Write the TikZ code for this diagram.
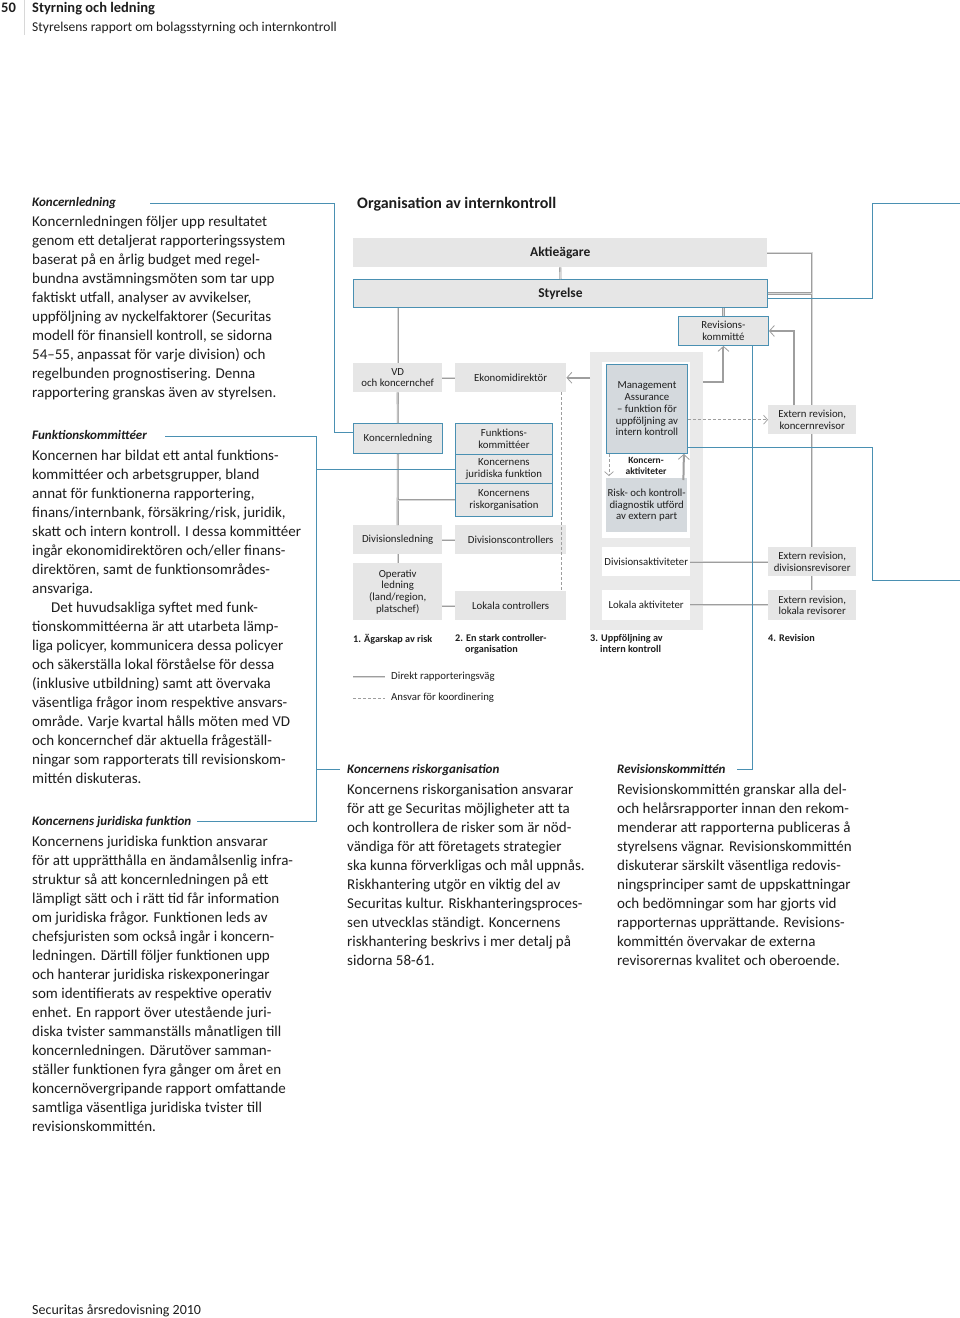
\documentclass[tikz,border=0pt]{standalone}
\usepackage{fontspec}
\setmainfont{Carlito}
\usetikzlibrary{arrows.meta, positioning, calc}

\definecolor{sblue}{RGB}{74,144,178}
\definecolor{boxgray}{RGB}{230,230,230}
\definecolor{panelgray}{RGB}{234,234,234}
\definecolor{magray}{RGB}{212,217,221}
\definecolor{linegray}{RGB}{158,158,158}
\definecolor{linefill}{RGB}{215,215,215}
\definecolor{ink}{RGB}{30,30,30}

\newcommand\bodyfont{\fontsize{15}{19}\selectfont}
\newcommand\headfont{\fontsize{13}{15}\selectfont\bfseries\itshape}
\newcommand\diagfont{\fontsize{10.8}{11.7}\selectfont}
\newcommand\stepfont{\fontsize{10.2}{11}\selectfont\bfseries}

\tikzset{
  graybox/.style={fill=boxgray, inner sep=1pt, align=center, font=\diagfont, text=ink, anchor=north west},
  bluebox/.style={graybox, draw=sblue, line width=0.9pt},
  whitebox/.style={graybox, fill=white},
  mabox/.style={graybox, fill=magray},
  bodytext/.style={anchor=north west, inner sep=0pt, align=left, font=\bodyfont, text=ink},
  headtext/.style={anchor=base west, inner sep=0pt, font=\headfont, text=ink},
  steplabel/.style={anchor=north west, inner sep=0pt, align=left, font=\stepfont, text=ink},
  rep/.style={draw=linegray, double=linefill, double distance=0.9pt, line width=0.6pt},
  reparrow/.style={draw=linegray, line width=2pt, -{Straight Barb[length=5pt, width=11pt, line width=0.8pt]}},
  coordline/.style={draw=linegray, line width=0.7pt, dash pattern=on 3pt off 2pt},
  coordarrow/.style={coordline, -{Straight Barb[length=4pt, width=9pt]}},
  infoline/.style={draw=sblue, line width=0.9pt},
}

\begin{document}
\begin{tikzpicture}[x=1pt, y=-1pt]
\useasboundingbox[fill=white] (0,0) rectangle (960,1318);

% page head
\draw[linegray!40, line width=0.6pt] (24,0) -- (24,35);
\node[anchor=base west, inner sep=0pt, font=\fontsize{14.5}{16}\selectfont\bfseries, text=ink] (pnum) at (1,12) {50};
\node[anchor=base west, inner sep=0pt, font=\fontsize{14.5}{16}\selectfont\bfseries, text=ink] (ptitle) at (32,12) {Styrning och ledning};
\node[anchor=base west, inner sep=0pt, font=\fontsize{13.5}{15}\selectfont, text=ink] (psub) at (32,31) {Styrelsens rapport om bolagsstyrning och internkontroll};

% left column
\node[headtext] (hKonc) at (32,206) {Koncernledning};
\node[bodytext] (tKonc) at (32,215.5) {Koncernledningen följer upp resultatet\\
genom ett detaljerat rapporteringssystem\\
baserat på en årlig budget med regel-\\
bundna avstämningsmöten som tar upp\\
faktiskt utfall, analyser av avvikelser,\\
uppföljning av nyckelfaktorer (Securitas\\
modell för finansiell kontroll, se sidorna\\
54–55, anpassat för varje division) och\\
regelbunden prognostisering. Denna\\
rapportering granskas även av styrelsen.};

\node[headtext] (hFunk) at (32,439) {Funktionskommittéer};
\node[bodytext] (tFunk) at (32,449.5) {Koncernen har bildat ett antal funktions-\\
kommittéer och arbetsgrupper, bland\\
annat för funktionerna rapportering,\\
finans/internbank, försäkring/risk, juridik,\\
skatt och intern kontroll. I dessa kommittéer\\
ingår ekonomidirektören och/eller finans-\\
direktören, samt de funktionsområdes-\\
ansvariga.\\
\hspace*{19pt}Det huvudsakliga syftet med funk-\\
tionskommittéerna är att utarbeta lämp-\\
liga policyer, kommunicera dessa policyer\\
och säkerställa lokal förståelse för dessa\\
(inklusive utbildning) samt att övervaka\\
väsentliga frågor inom respektive ansvars-\\
område. Varje kvartal hålls möten med VD\\
och koncernchef där aktuella frågeställ-\\
ningar som rapporterats till revisionskom-\\
mittén diskuteras.};

\node[headtext] (hJur) at (32,825) {Koncernens juridiska funktion};
\node[bodytext] (tJur) at (32,835.5) {Koncernens juridiska funktion ansvarar\\
för att upprätthålla en ändamålsenlig infra-\\
struktur så att koncernledningen på ett\\
lämpligt sätt och i rätt tid får information\\
om juridiska frågor. Funktionen leds av\\
chefsjuristen som också ingår i koncern-\\
ledningen. Därtill följer funktionen upp\\
och hanterar juridiska riskexponeringar\\
som identifierats av respektive operativ\\
enhet. En rapport över utestående juri-\\
diska tvister sammanställs månatligen till\\
koncernledningen. Därutöver samman-\\
ställer funktionen fyra gånger om året en\\
koncernövergripande rapport omfattande\\
samtliga väsentliga juridiska tvister till\\
revisionskommittén.};

% lower texts
\node[headtext] (hRisk) at (347,773) {Koncernens riskorganisation};
\node[bodytext] (tRisk) at (347,783.5) {Koncernens riskorganisation ansvarar\\
för att ge Securitas möjligheter att ta\\
och kontrollera de risker som är nöd-\\
vändiga för att företagets strategier\\
ska kunna förverkligas och mål uppnås.\\
Riskhantering utgör en viktig del av\\
Securitas kultur. Riskhanteringsproces-\\
sen utvecklas ständigt. Koncernens\\
riskhantering beskrivs i mer detalj på\\
sidorna 58-61.};

\node[headtext] (hRevk) at (617,773) {Revisionskommittén};
\node[bodytext] (tRevk) at (617,783.5) {Revisionskommittén granskar alla del-\\
och helårsrapporter innan den rekom-\\
menderar att rapporterna publiceras å\\
styrelsens vägnar. Revisionskommittén\\
diskuterar särskilt väsentliga redovis-\\
ningsprinciper samt de uppskattningar\\
och bedömningar som har gjorts vid\\
rapporternas upprättande. Revisions-\\
kommittén övervakar de externa\\
revisorernas kvalitet och oberoende.};

% diagram
\node[anchor=base west, inner sep=0pt, font=\fontsize{16}{18}\selectfont\bfseries, text=ink] (dTitle) at (357,208.5) {Organisation av internkontroll};

\node[graybox, minimum width=414pt, minimum height=29pt, font=\fontsize{13.5}{15}\selectfont\bfseries] (akt) at (353,238) {Aktieägare};
\node[bluebox, minimum width=414pt, minimum height=28pt, font=\fontsize{13.5}{15}\selectfont\bfseries] (styr) at (353,279) {Styrelse};
\node[bluebox, minimum width=90pt, minimum height=29pt] (rev) at (678,316) {Revisions-\\kommitté};

\node[graybox, minimum width=89pt, minimum height=29pt] (vd) at (353,363) {VD\\och koncernchef};
\node[graybox, minimum width=111pt, minimum height=29pt] (ekon) at (455,363) {Ekonomidirektör};
\node[bluebox, minimum width=89pt, minimum height=30pt] (konc) at (353,423) {Koncernledning};
\node[bluebox, minimum width=97pt, minimum height=31pt] (funk) at (455,423) {Funktions-\\kommittéer};
\node[bluebox, minimum width=97pt, minimum height=29pt] (jur) at (455,454) {Koncernens\\juridiska funktion};
\node[bluebox, minimum width=97pt, minimum height=33pt] (risko) at (455,483) {Koncernens\\riskorganisation};
\node[graybox, minimum width=89pt, minimum height=29pt] (divl) at (353,525) {Divisionsledning};
\node[graybox, minimum width=111pt, minimum height=29pt] (divc) at (455,525) {Divisionscontrollers};
\node[graybox, minimum width=89pt, minimum height=57pt] (op) at (353,563) {Operativ\\ledning\\(land/region,\\platschef)};
\node[graybox, minimum width=111pt, minimum height=29pt] (lokc) at (455,591) {Lokala controllers};

\draw[coordline] ($(ekon.south east)+(-5,0)$) -- ($(lokc.north east)+(-5,0)$);

% column 3
\node[graybox, fill=panelgray, minimum width=113pt, minimum height=278pt] (panel) at (590,352) {};
\node[whitebox, minimum width=88pt, minimum height=176pt] (inner) at (602,362) {};
\node[mabox, draw=sblue, line width=0.9pt, minimum width=81pt, minimum height=89pt] (ma) at (606,364) {Management\\Assurance\\– funktion för\\uppföljning av\\intern kontroll};
\node[inner sep=0pt, align=center, font=\fontsize{9.5}{10.5}\selectfont\bfseries, text=ink] (koncakt) at (646,466) {Koncern-\\aktiviteter};
\node[mabox, minimum width=81pt, minimum height=54pt] (riskd) at (606,478) {Risk- och kontroll-\\diagnostik utförd\\av extern part};
\node[whitebox, minimum width=88pt, minimum height=29pt] (diva) at (602,547) {Divisionsaktiviteter};
\node[whitebox, minimum width=88pt, minimum height=30pt] (loka) at (602,590) {Lokala aktiviteter};

% column 4
\node[graybox, minimum width=88pt, minimum height=29pt] (ext1) at (768,405) {Extern revision,\\koncernrevisor};
\node[graybox, minimum width=88pt, minimum height=29pt] (extd) at (768,547) {Extern revision,\\divisionsrevisorer};
\node[graybox, minimum width=88pt, minimum height=30pt] (extl) at (768,590) {Extern revision,\\lokala revisorer};

% reporting lines
\draw[rep] (akt.south) -- (styr.north);
\draw[rep] (vd.north |- styr.south) -- (vd.north);
\draw[rep] (rev.north |- styr.south) -- (rev.north);
\draw[rep] (akt.east) -| (ext1.north);
\draw[rep] (styr.east) -- (styr.east -| ext1.north);
\draw[rep] (vd.east) -- (ekon.west);
\draw[rep] (vd.south) -- (konc.north);
\draw[rep] (konc.south) -- (divl.north);
\draw[rep] (divl.south) -- (op.north);
\draw[rep] (konc.south |- risko.west) -- (risko.west);
\draw[rep] (divl.east) -- (divc.west);
\draw[rep] (op.east |- lokc.west) -- (lokc.west);
\draw[rep] (diva.east) -- (extd.west);
\draw[rep] (loka.east) -- (extl.west);
\draw[rep] (ext1.south) -- (extd.north);
\draw[rep] (extd.south) -- (extl.north);
\draw[reparrow] ($(ext1.north west)+(26,0)$) |- (rev.east);
\draw[reparrow] ($(panel.north east)+(0,30)$) -| (rev.south);
\draw[reparrow] (panel.west |- ekon.east) -- (ekon.east);
\draw[reparrow] ($(riskd.north east)+(-4,2)$) -- ($(ma.south east)+(-4,0)$);
\draw[coordarrow] (ma.east |- ext1.west) -- (ext1.west);
\draw[coordarrow] ($(ma.south west)+(3,0)$) -- ($(riskd.north west)+(3,-2)$);

% step labels
\node[steplabel] (s1) at (353,634) {1. Ägarskap av risk};
\node[steplabel] (s2) at (455,634) {2. En stark controller-\\\hspace*{10pt}organisation};
\node[steplabel] (s3) at (590,634) {3. Uppföljning av\\\hspace*{10pt}intern kontroll};
\node[steplabel] (s4) at (768,634) {4. Revision};

% legend
\node[anchor=west, inner sep=0pt, font=\diagfont, text=ink] (leg1) at (391,677) {Direkt rapporteringsväg};
\node[anchor=west, inner sep=0pt, font=\diagfont, text=ink] (leg2) at (391,698) {Ansvar för koordinering};
\draw[rep] ($(leg1.west)+(-38,0)$) -- ($(leg1.west)+(-6,0)$);
\draw[coordline] ($(leg2.west)+(-38,0)$) -- ($(leg2.west)+(-6,0)$);

% blue pointers
\coordinate (kEnd) at (150,203);
\coordinate (fEnd) at (165,436);
\coordinate (jEnd) at (197,821);
\coordinate (rEnd) at (340,769);
\coordinate (revEnd) at (737,769);
\coordinate (pgR1) at (960,203);
\coordinate (pgR2) at (960,580);
\draw[infoline] (kEnd) -- ++(184,0) |- ($(konc.west)+(0,-6)$);
\draw[infoline] (fEnd) -- ++(151,0) |- (jEnd);
\draw[infoline] (jur.west) -- ++(-139,0);
\draw[infoline] (rEnd) -- ++(-24,0);
\draw[infoline] ($(styr.east)+(0,5)$) -- ++(105,0) |- (pgR1);
\draw[infoline] ($(ma.south east)+(0,-6)$) -- ++(185,0) |- (pgR2);
\draw[infoline] ($(rev.south east)+(-16,0)$) |- (revEnd);

% foot
\node[anchor=base west, inner sep=0pt, font=\fontsize{14}{16}\selectfont, text=ink] (foot) at (32,1314) {Securitas årsredovisning 2010};
\end{tikzpicture}
\end{document}
